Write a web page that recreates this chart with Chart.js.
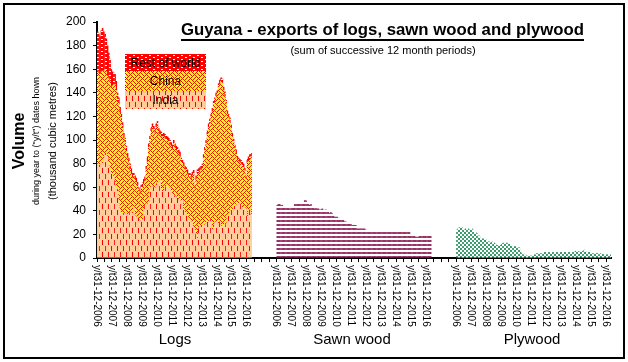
<!DOCTYPE html>
<html>
<head>
<meta charset="utf-8">
<script src="https://cdn.jsdelivr.net/npm/chart.js@4.4.0/dist/chart.umd.min.js"></script>
<style>
  body { margin: 0; background: #fff; }
  canvas { display: block; }
</style>
</head>
<body>
<canvas id="myChart" width="628" height="362"></canvas>
<script>
// 12-month rolling totals, thousand m3, one value per month (Dec 2006 .. Mar 2017)
const years = ["2006", "2007", "2008", "2009", "2010", "2011", "2012", "2013", "2014", "2015", "2016"];
const products = ["Logs", "Sawn wood", "Plywood"];
const gapMonths = 20;

const logsIndia = [
  80, 78, 79, 82, 80, 84, 88, 89, 86, 80,
  75, 72, 70, 69, 64, 60, 58, 49, 40, 38,
  38, 37, 38, 37, 36, 37, 39, 40, 38, 43,
  36, 35, 35, 34, 32, 31, 33, 42, 46, 45,
  46, 47, 58, 60, 61, 60, 58, 63, 64, 64,
  66, 57, 56, 57, 60, 61, 60, 59, 60, 55,
  54, 52, 53, 52, 51, 50, 49, 48, 49, 42,
  39, 38, 36, 33, 32, 31, 30, 26, 24, 20,
  17, 25, 27, 28, 27, 29, 28, 30, 32, 31,
  33, 32, 24, 27, 30, 31, 30, 29, 31, 26,
  28, 27, 29, 28, 35, 36, 40, 41, 40, 43,
  44, 45, 46, 46, 47, 45, 43, 42, 43, 42,
  35, 40, 41, 36
];
const logsChina = [
  79, 78, 77, 76, 79, 74, 72, 69, 69, 72,
  75, 73, 76, 78, 83, 82, 75, 81, 82, 80,
  72, 65, 60, 53, 49, 44, 36, 32, 30, 26,
  30, 29, 27, 23, 22, 28, 28, 21, 19, 30,
  36, 47, 42, 47, 50, 48, 48, 48, 49, 42,
  39, 46, 47, 46, 41, 39, 40, 40, 36, 40,
  38, 45, 41, 39, 40, 39, 37, 34, 31, 36,
  36, 35, 36, 36, 37, 36, 40, 46, 35, 47,
  55, 47, 47, 47, 49, 56, 63, 66, 73, 80,
  81, 88, 100, 103, 102, 106, 109, 116, 116, 124,
  121, 115, 108, 103, 87, 83, 75, 69, 63, 55,
  49, 43, 38, 36, 34, 35, 35, 35, 31, 25,
  46, 43, 43, 50
];
const logsRest = [
  33, 34, 32, 35, 36, 34, 30, 28, 25, 22,
  18, 15, 12, 10, 9, 8, 7, 6, 6, 5,
  5, 4, 4, 5, 4, 4, 5, 4, 4, 3,
  4, 4, 3, 3, 4, 3, 3, 4, 4, 3,
  4, 3, 4, 4, 3, 4, 4, 3, 3, 4,
  3, 4, 3, 3, 4, 4, 3, 3, 4, 3,
  4, 3, 3, 4, 3, 3, 4, 3, 3, 3,
  3, 4, 3, 3, 3, 4, 3, 3, 3, 3,
  3, 4, 3, 3, 4, 3, 3, 4, 3, 3,
  4, 3, 3, 3, 4, 3, 3, 3, 4, 3,
  3, 3, 4, 3, 3, 3, 4, 3, 3, 3,
  3, 4, 3, 3, 3, 3, 4, 3, 3, 3,
  3, 3, 4, 3
];
const sawnWood = [
  45, 46, 46, 45, 45, 44, 43, 44, 44, 43,
  42, 43, 43, 44, 46, 46, 46, 46, 46, 46,
  47, 46, 49, 49, 46, 46, 45, 46, 43, 43,
  42, 43, 42, 42, 41, 41, 42, 41, 40, 41,
  39, 39, 38, 39, 38, 37, 35, 35, 35, 34,
  34, 34, 33, 33, 31, 31, 30, 30, 29, 29,
  28, 28, 28, 28, 25, 25, 25, 25, 25, 25,
  25, 24, 22, 22, 22, 22, 22, 22, 22, 22,
  22, 22, 22, 22, 22, 22, 22, 22, 22, 22,
  22, 22, 22, 22, 22, 22, 22, 22, 22, 22,
  22, 22, 22, 22, 22, 22, 22, 20, 20, 19,
  19, 18, 18, 18, 19, 19, 19, 19, 19, 19,
  19, 19, 19, 19
];
const plywood = [
  24, 25, 26, 26, 26, 25, 24, 25, 25, 25,
  24, 25, 25, 24, 22, 22, 21, 19, 19, 17,
  17, 16, 17, 16, 14, 14, 14, 13, 14, 13,
  13, 12, 11, 11, 11, 11, 12, 13, 12, 13,
  13, 12, 12, 11, 10, 10, 10, 10, 9, 9,
  9, 5, 4, 3, 3, 3, 2, 2, 2, 2,
  2, 3, 3, 3, 4, 4, 4, 4, 4, 5,
  5, 5, 5, 5, 5, 5, 5, 5, 5, 5,
  5, 5, 5, 5, 5, 5, 5, 5, 5, 5,
  5, 5, 5, 5, 5, 6, 6, 6, 5, 6,
  6, 6, 7, 6, 5, 5, 5, 4, 4, 4,
  4, 5, 4, 4, 3, 4, 3, 4, 3, 3,
  3, 3, 3, 3
];

const FONT = "'Liberation Sans', Arial, sans-serif";
const groupLen = logsIndia.length + gapMonths;
const total = groupLen * 2 + logsIndia.length;

const labels = [];
for (let i = 0; i < total; i++) {
  const m = i % groupLen;
  labels.push(m < logsIndia.length && m % 12 === 0 ? "y/t31-12-" + years[m / 12] : "");
}

function place(values, group) {
  const out = new Array(total).fill(null);
  values.forEach((v, i) => { out[group * groupLen + i] = v; });
  return out;
}

// small bitmap fills like the spreadsheet patterns
function pattern(w, h, bg, fg, bits) {
  const c = document.createElement("canvas");
  c.width = w; c.height = h;
  const g = c.getContext("2d");
  g.fillStyle = bg;
  g.fillRect(0, 0, w, h);
  g.fillStyle = fg;
  bits.forEach((row, y) => {
    for (let x = 0; x < w; x++) if (row[x] === "1") g.fillRect(x, y, 1, 1);
  });
  return g.createPattern(c, "repeat");
}

const indiaFill = pattern(6, 12, "#ffcc99", "#ff0000", [
  "100000", "100000", "100000", "100000", "100000", "000000",
  "000100", "000100", "000100", "000100", "000100", "000000"
]);
const chinaFill = pattern(8, 8, "#ffff00", "#ff0000", [
  "10001000", "01010100", "00100010", "01010001",
  "10001000", "00010101", "00100010", "01000101"
]);
const restFill = pattern(8, 4, "#ff0000", "#ffffff", [
  "00000000", "01100000", "00000000", "00000110"
]);
const sawnFill = pattern(1, 4, "#ffffff", "#993366", ["1", "1", "0", "0"]);
const plyFill = pattern(4, 4, "#ffffff", "#339966", ["1100", "1100", "0011", "0011"]);

const ctx = document.getElementById("myChart");

const textPlugin = {
  id: "texts",
  afterDraw(chart) {
    const c = chart.ctx;
    const xs = chart.scales.x;
    const step = (xs.right - xs.left) / total;
    c.save();
    c.fillStyle = "#000";

    // x tick labels, reading top to bottom
    c.font = "10px " + FONT;
    c.textAlign = "left";
    c.textBaseline = "middle";
    labels.forEach((lab, i) => {
      if (!lab) return;
      const x = xs.left + i * step - 0.5;
      c.save();
      c.translate(x, 265);
      c.rotate(Math.PI / 2);
      c.fillText(lab, 0, 0);
      c.restore();
    });

    // product names
    c.font = "15px " + FONT;
    c.textAlign = "center";
    c.textBaseline = "alphabetic";
    [175, 352, 532].forEach((x, k) => c.fillText(products[k], x, 344));

    // title, sized to span its underline
    const title = "Guyana - exports of logs, sawn wood and plywood";
    c.font = "bold 16px " + FONT;
    const size = 16 * 403 / c.measureText(title).width;
    c.font = "bold " + size.toFixed(2) + "px " + FONT;
    c.textAlign = "left";
    c.fillText(title, 181, 35);
    c.fillRect(181, 39, 403, 2);
    c.textAlign = "center";
    c.font = "11px " + FONT;
    c.fillText("(sum of successive 12 month periods)", 383, 54);

    // y axis titles
    const vt = [
      ["bold 16px ", "Volume", 24],
      ["9px ", "during year to (\"y/t\") dates hown", 39],
      ["11px ", "(thousand cubic metres)", 56]
    ];
    vt.forEach(([f, t, x]) => {
      c.save();
      c.font = f + FONT;
      c.translate(x, 141);
      c.rotate(-Math.PI / 2);
      c.fillText(t, 0, 0);
      c.restore();
    });

    // legend block
    const rows = [["Rest of world", restFill, 54, 17], ["China", chinaFill, 71, 20], ["India", indiaFill, 91, 18]];
    rows.forEach(([t, fill, y, h]) => {
      c.fillStyle = fill;
      c.fillRect(125, y, 81, h);
    });
    c.fillStyle = "#000";
    c.font = "12px " + FONT;
    c.textBaseline = "middle";
    rows.forEach(([t, fill, y, h]) => c.fillText(t, 165.5, y + h / 2 + 1));

    // frame
    c.lineWidth = 2;
    c.strokeStyle = "#000";
    c.strokeRect(4, 4, 620, 354);
    c.restore();
  }
};

const bar = (label, data, fill) => ({
  label: label,
  data: data,
  backgroundColor: fill,
  borderWidth: 0,
  barPercentage: 1.25,
  categoryPercentage: 1
});

new Chart(ctx, {
  type: "bar",
  data: {
    labels: labels,
    datasets: [
      bar("India", place(logsIndia, 0), indiaFill),
      bar("China", place(logsChina, 0), chinaFill),
      bar("Rest of world", place(logsRest, 0), restFill),
      bar("Sawn wood", place(sawnWood, 1), sawnFill),
      bar("Plywood", place(plywood, 2), plyFill)
    ]
  },
  options: {
    responsive: false,
    animation: false,
    layout: { padding: { top: 22, right: 17, bottom: 0, left: 0 } },
    plugins: { legend: { display: false }, tooltip: { enabled: false } },
    scales: {
      x: {
        stacked: true,
        ticks: { display: false, autoSkip: false },
        grid: {
          drawOnChartArea: false,
          tickLength: 4,
          lineWidth: 1,
          color: (c) => (c.index % 6 === 0 ? "#000" : "rgba(0,0,0,0)")
        },
        border: { color: "#000", width: 2 },
        afterFit: (s) => { s.height = 104; }
      },
      y: {
        stacked: true,
        min: 0,
        max: 200,
        ticks: { stepSize: 20, color: "#000", padding: 7, font: { family: FONT, size: 12 } },
        grid: { drawOnChartArea: false, tickLength: 4, color: "#000" },
        border: { color: "#000", width: 2 },
        afterFit: (s) => { s.width = 97; }
      }
    }
  },
  plugins: [textPlugin]
});
</script>
</body>
</html>
